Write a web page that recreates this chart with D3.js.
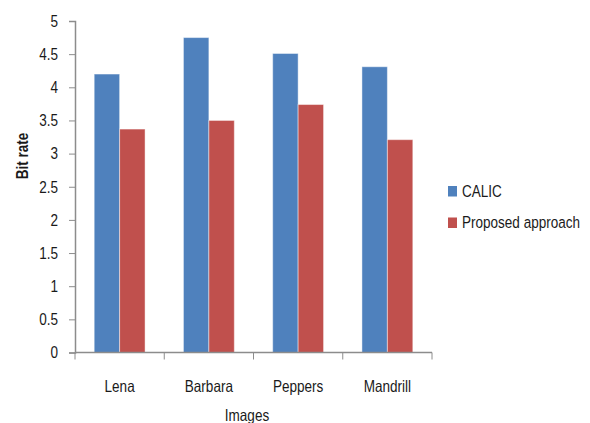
<!DOCTYPE html>
<html>
<head>
<meta charset="utf-8">
<script src="https://cdn.jsdelivr.net/npm/d3@7"></script>
<style>
  body { margin: 0; background: #fff; }
  text { font-family: "Liberation Sans", Arial, sans-serif; fill: #1a1a1a; }
</style>
</head>
<body>
<div id="chart"></div>
<script>
const images = ['Lena', 'Barbara', 'Peppers', 'Mandrill'];
const seriesNames = ['CALIC', 'Proposed approach'];
const calic = [4.2, 4.75, 4.51, 4.31];
const proposed = [3.37, 3.5, 3.74, 3.21];
const yTicks = [0, 0.5, 1, 1.5, 2, 2.5, 3, 3.5, 4, 4.5, 5];
const colors = ['#4f81bd', '#c0504d'];

let width = 590,
    height = 423,
    plot = {left: 75, right: 432, top: 21, bottom: 352.5};

let svg = d3.select('#chart').append('svg')
    .attr('width', width)
    .attr('height', height);

let xScale = d3.scaleBand()
    .domain(images)
    .range([plot.left, plot.right])
    .paddingInner(0.43)
    .paddingOuter(0.215);

let subScale = d3.scaleBand()
    .domain(seriesNames)
    .range([0, xScale.bandwidth()]);

let yScale = d3.scaleLinear()
    .domain([0, 5])
    .range([plot.bottom, plot.top]);

let rows = images.map((name, i) => ({name: name, values: [calic[i], proposed[i]]}));

// narrow the glyphs, no condensed face is installed
function condense(sel) {
    sel.each(function () {
        let w = this.getComputedTextLength();
        d3.select(this)
            .attr('textLength', w * 0.82)
            .attr('lengthAdjust', 'spacingAndGlyphs');
    });
}

// bars
let group = svg.append('g')
    .selectAll('g')
    .data(rows)
    .join('g')
    .attr('transform', d => `translate(${xScale(d.name)},0)`);

group.selectAll('rect')
    .data(d => d.values.map((v, j) => ({series: seriesNames[j], value: v, j: j})))
    .join('rect')
    .attr('x', d => subScale(d.series))
    .attr('y', d => yScale(d.value))
    .attr('width', subScale.bandwidth())
    .attr('height', d => yScale(0) - yScale(d.value))
    .attr('fill', d => colors[d.j])
    .attr('stroke', 'rgba(255,255,255,0.45)')
    .attr('stroke-width', 1);

// y axis
let yAxis = svg.append('g')
    .attr('transform', `translate(${plot.left},0)`)
    .call(d3.axisLeft(yScale).tickValues(yTicks).tickSize(6).tickPadding(11).tickFormat(d3.format('')));

yAxis.select('.domain').attr('stroke', '#8c8c8c').attr('stroke-width', 1.5);
yAxis.selectAll('.tick line').attr('stroke', '#8c8c8c');
yAxis.selectAll('.tick text')
    .attr('font-size', 16.5)
    .attr('fill', '#1a1a1a')
    .style('font-family', '"Liberation Sans", Arial, sans-serif')
    .call(condense);

// x axis with ticks at category boundaries
let boundaries = d3.range(images.length + 1).map(i => plot.left + i * xScale.step());

let xAxis = svg.append('g')
    .attr('transform', `translate(0,${plot.bottom})`);

xAxis.append('line')
    .attr('x1', plot.left)
    .attr('x2', plot.right)
    .attr('stroke', '#8c8c8c')
    .attr('stroke-width', 1.5);

xAxis.selectAll('.bound')
    .data(boundaries)
    .join('line')
    .attr('class', 'bound')
    .attr('x1', d => d)
    .attr('x2', d => d)
    .attr('y1', 0)
    .attr('y2', 7)
    .attr('stroke', '#8c8c8c');

xAxis.selectAll('.cat')
    .data(images)
    .join('text')
    .attr('class', 'cat')
    .attr('x', d => xScale(d) + xScale.bandwidth() / 2)
    .attr('y', 39.5)
    .attr('text-anchor', 'middle')
    .attr('font-size', 16.5)
    .text(d => d)
    .call(condense);

// axis titles
svg.append('text')
    .attr('x', 247)
    .attr('y', 421)
    .attr('text-anchor', 'middle')
    .attr('font-size', 16.5)
    .text('Images')
    .call(condense);

svg.append('text')
    .attr('transform', 'translate(28,156) rotate(-90)')
    .attr('text-anchor', 'middle')
    .attr('font-size', 16.5)
    .attr('font-weight', 'bold')
    .text('Bit rate')
    .call(condense);

// legend
let legend = svg.append('g')
    .attr('transform', 'translate(448,186)');

let item = legend.selectAll('g')
    .data(seriesNames)
    .join('g')
    .attr('transform', (d, i) => `translate(0,${i * 31.5})`);

item.append('rect')
    .attr('width', 9)
    .attr('height', 10.5)
    .attr('fill', (d, i) => colors[i]);

item.append('text')
    .attr('transform', 'translate(14,10.5) scale(0.82,1)')
    .attr('font-size', 16.5)
    .text(d => d);
</script>
</body>
</html>
